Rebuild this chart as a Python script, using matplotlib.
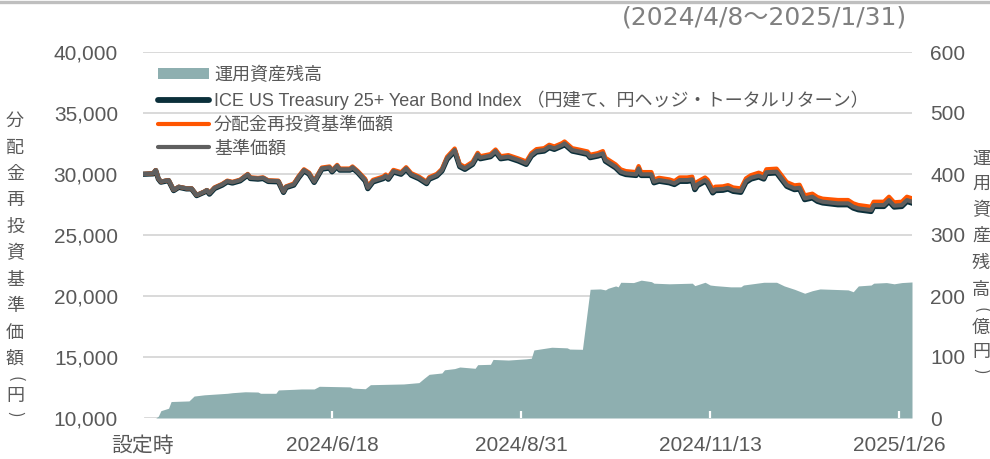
import matplotlib
matplotlib.use("Agg")
import matplotlib.pyplot as plt
from matplotlib.lines import Line2D
from matplotlib.patches import Patch
from matplotlib.ticker import FuncFormatter, MultipleLocator
import pandas as pd

plt.rcParams["font.family"] = ["Liberation Sans", "Noto Sans CJK JP"]

# ---- data -------------------------------------------------------------
price_dates = [
    "2024-04-05", "2024-04-09", "2024-04-10", "2024-04-11", "2024-04-12", "2024-04-15", "2024-04-17",
    "2024-04-19", "2024-04-22", "2024-04-24", "2024-04-26", "2024-04-29", "2024-04-30",
    "2024-05-01", "2024-05-03", "2024-05-06", "2024-05-08", "2024-05-10", "2024-05-13", "2024-05-16",
    "2024-05-17", "2024-05-20", "2024-05-22", "2024-05-24", "2024-05-28", "2024-05-30", "2024-05-31",
    "2024-06-03", "2024-06-05", "2024-06-07", "2024-06-09", "2024-06-11", "2024-06-14", "2024-06-17",
    "2024-06-18", "2024-06-20", "2024-06-21", "2024-06-25", "2024-06-26", "2024-06-28",
    "2024-07-01", "2024-07-02", "2024-07-04", "2024-07-08", "2024-07-09", "2024-07-10", "2024-07-12",
    "2024-07-15", "2024-07-17", "2024-07-19", "2024-07-22", "2024-07-25", "2024-07-26", "2024-07-29",
    "2024-07-31",
    "2024-08-02", "2024-08-05", "2024-08-07", "2024-08-09", "2024-08-12", "2024-08-14", "2024-08-15",
    "2024-08-19", "2024-08-21", "2024-08-23", "2024-08-26", "2024-08-30",
    "2024-09-02", "2024-09-04", "2024-09-06", "2024-09-09", "2024-09-11", "2024-09-13", "2024-09-16",
    "2024-09-17", "2024-09-20", "2024-09-23", "2024-09-26", "2024-09-27", "2024-09-30",
    "2024-10-02", "2024-10-03", "2024-10-07", "2024-10-09", "2024-10-11", "2024-10-15", "2024-10-16",
    "2024-10-17", "2024-10-21", "2024-10-22", "2024-10-24", "2024-10-28", "2024-10-30",
    "2024-11-01", "2024-11-04", "2024-11-06", "2024-11-07", "2024-11-08", "2024-11-11", "2024-11-12",
    "2024-11-14", "2024-11-15", "2024-11-18", "2024-11-20", "2024-11-22", "2024-11-25", "2024-11-27",
    "2024-11-29",
    "2024-12-02", "2024-12-04", "2024-12-05", "2024-12-09", "2024-12-11", "2024-12-13", "2024-12-16",
    "2024-12-18", "2024-12-20", "2024-12-23", "2024-12-25", "2024-12-27",
    "2025-01-02", "2025-01-06", "2025-01-08", "2025-01-10", "2025-01-15", "2025-01-16", "2025-01-20",
    "2025-01-22", "2025-01-24", "2025-01-27", "2025-01-29", "2025-01-31",
]

# ICE US Treasury 25+ Year Bond Index (yen, hedged, total return)
index_values = [
    29980, 30010, 30280, 29600, 29330, 29460, 28640, 28910, 28780, 28780, 28230, 28510, 28640,
    28350, 28810, 29090, 29360, 29260, 29440, 29910, 29630, 29580, 29630, 29390, 29360, 28490, 28890,
    29090, 29720, 30260, 29990, 29310, 30400, 30490, 30180, 30620, 30320, 30320, 30490, 30130,
    29430, 28800, 29350, 29620, 29790, 29570, 30170, 29980, 30390, 29900, 29620, 29210, 29570, 29840, 30250,
    31200, 31880, 30600, 30380, 30790, 31530, 31250, 31420, 31800, 31250, 31340, 31060,
    30790, 31470, 31800, 31880, 32160, 32020, 32290, 32430, 31880, 31750, 31610, 31340, 31470,
    31600, 31050, 30510, 30100, 29960, 29880, 30370, 29880, 29880, 29280, 29410, 29280, 29140,
    29400, 29400, 29460, 28720, 29050, 29400, 29220, 28450, 28640, 28670, 28770, 28580, 28500, 29320, 29590,
    29760, 29590, 30040, 30090, 29540, 28990, 28720, 28770, 27900, 28040, 27760, 27630,
    27480, 27480, 27210, 27070, 26930, 27340, 27340, 27750, 27290, 27340, 27750, 27620,
]

# 分配金再投資基準価額
reinvested_nav = [
    30000, 30060, 30330, 29650, 29380, 29510, 28690, 28960, 28830, 28830, 28280, 28560, 28690,
    28450, 28910, 29190, 29460, 29360, 29540, 30010, 29730, 29680, 29730, 29490, 29460, 28590, 28990,
    29220, 29850, 30390, 30120, 29440, 30530, 30620, 30310, 30750, 30450, 30450, 30620, 30260,
    29600, 28970, 29520, 29790, 29960, 29740, 30340, 30150, 30560, 30070, 29790, 29380, 29740, 30010, 30420,
    31410, 32090, 30810, 30590, 31000, 31740, 31460, 31630, 32010, 31460, 31550, 31270,
    31030, 31710, 32040, 32120, 32400, 32260, 32530, 32670, 32120, 31990, 31850, 31580, 31710,
    31880, 31330, 30790, 30380, 30240, 30160, 30650, 30160, 30160, 29560, 29690, 29560, 29420,
    29720, 29720, 29780, 29040, 29370, 29720, 29540, 28770, 28960, 28990, 29090, 28900, 28820, 29640, 29910,
    30110, 29940, 30390, 30440, 29890, 29340, 29070, 29120, 28250, 28390, 28110, 27980,
    27870, 27870, 27600, 27460, 27320, 27730, 27730, 28140, 27680, 27730, 28140, 28010,
]

# 基準価額
nav_values = [
    30000, 30050, 30320, 29640, 29370, 29500, 28680, 28950, 28820, 28820, 28270, 28550, 28680,
    28410, 28870, 29150, 29420, 29320, 29500, 29970, 29690, 29640, 29690, 29450, 29420, 28550, 28950,
    29150, 29780, 30320, 30050, 29370, 30460, 30550, 30240, 30680, 30380, 30380, 30550, 30190,
    29500, 28870, 29420, 29690, 29860, 29640, 30240, 30050, 30460, 29970, 29690, 29280, 29640, 29910, 30320,
    31280, 31960, 30680, 30460, 30870, 31610, 31330, 31500, 31880, 31330, 31420, 31140,
    30870, 31550, 31880, 31960, 32240, 32100, 32370, 32510, 31960, 31830, 31690, 31420, 31550,
    31690, 31140, 30600, 30190, 30050, 29970, 30460, 29970, 29970, 29370, 29500, 29370, 29230,
    29500, 29500, 29560, 28820, 29150, 29500, 29320, 28550, 28740, 28770, 28870, 28680, 28600, 29420, 29690,
    29860, 29690, 30140, 30190, 29640, 29090, 28820, 28870, 28000, 28140, 27860, 27730,
    27590, 27590, 27320, 27180, 27040, 27450, 27450, 27860, 27400, 27450, 27860, 27730,
]

# 運用資産残高 (億円)
aum_dates = [
    "2024-04-05", "2024-04-10", "2024-04-11", "2024-04-12", "2024-04-15", "2024-04-16", "2024-04-23",
    "2024-04-25", "2024-04-29", "2024-05-08", "2024-05-10", "2024-05-15", "2024-05-20", "2024-05-21",
    "2024-05-27", "2024-05-28", "2024-06-03", "2024-06-06", "2024-06-11", "2024-06-13", "2024-06-25",
    "2024-06-26", "2024-07-01", "2024-07-03", "2024-07-16", "2024-07-22", "2024-07-24", "2024-07-26",
    "2024-07-31", "2024-08-01", "2024-08-05", "2024-08-07", "2024-08-13", "2024-08-14", "2024-08-19",
    "2024-08-20", "2024-08-26", "2024-09-02", "2024-09-04", "2024-09-05", "2024-09-12", "2024-09-18",
    "2024-09-19", "2024-09-24", "2024-09-27", "2024-10-01", "2024-10-03", "2024-10-04", "2024-10-07",
    "2024-10-08", "2024-10-09", "2024-10-14", "2024-10-17", "2024-10-21", "2024-10-22", "2024-10-28",
    "2024-11-06", "2024-11-07", "2024-11-11", "2024-11-13", "2024-11-15", "2024-11-21", "2024-11-25",
    "2024-11-26", "2024-12-04", "2024-12-09", "2024-12-12", "2024-12-16", "2024-12-20", "2024-12-23",
    "2024-12-26", "2025-01-06", "2025-01-08", "2025-01-10", "2025-01-15", "2025-01-16", "2025-01-21",
    "2025-01-24", "2025-01-27", "2025-01-31",
]
aum_values = [
    0, 0, 3, 12, 16, 27, 28,
    36, 38, 40.5, 41.5, 43, 42.6, 40.5,
    40.5, 46, 47, 47.6, 47.6, 52, 51,
    49, 48, 54.6, 55.8, 58, 65, 71.6,
    73.8, 79, 81, 83.6, 81.5, 87.4, 88,
    96, 95, 97, 98, 111.5, 116, 115,
    113, 112.6, 211, 211.6, 210, 212.6, 216.5,
    215, 222.5, 222, 226, 223.5, 221, 220,
    221, 217, 222.5, 218, 217, 215, 215,
    218, 222.5, 222.5, 216.5, 211, 204.5, 208.7,
    211.6, 210, 207, 216.5, 218, 221, 222,
    220, 222, 223,
]

tick_dates = ["2024-04-05", "2024-06-18", "2024-08-31", "2024-11-13", "2025-01-26"]
tick_labels = ["設定時", "2024/6/18", "2024/8/31", "2024/11/13", "2025/1/26"]

series_labels = [
    "運用資産残高",
    "ICE US Treasury 25+ Year Bond Index （円建て、円ヘッジ・トータルリターン）",
    "分配金再投資基準価額",
    "基準価額",
]

# ---- styling ----------------------------------------------------------
AREA = "#8EAFB0"
NAVY = "#0B2F3A"
ORANGE = "#FF5500"
GREY = "#5F5F5F"
TEXT = "#595959"
GRID = "#D9D9D9"
JP = ["Noto Sans CJK JP", "DejaVu Sans"]

W, H = 990, 459
fig = plt.figure(figsize=(W / 100, H / 100), dpi=100)
left, right, top, bottom = 143, 912, 52, 418
ax = fig.add_axes([left / W, 1 - bottom / H, (right - left) / W, (bottom - top) / H])
ax2 = ax.twinx()
ax.set_zorder(ax2.get_zorder() + 1)
ax.patch.set_visible(False)

px = pd.to_datetime(price_dates)
ad = pd.to_datetime(aum_dates)

# fund size area on the right axis
ax2.fill_between(ad, 0, aum_values, color=AREA, lw=0, zorder=2)
ax2.set_ylim(0, 600)
ax2.yaxis.set_major_locator(MultipleLocator(100))
ax2.set_axisbelow(True)
ax2.yaxis.grid(True, color=GRID, lw=1.4, zorder=0)

# price lines on the left axis
ax.plot(px, index_values, color=NAVY, lw=3.8, solid_joinstyle="round", zorder=3)
ax.plot(px, reinvested_nav, color=ORANGE, lw=3.0, solid_joinstyle="round", zorder=4)
ax.plot(px, nav_values, color=GREY, lw=3.0, solid_joinstyle="round", zorder=5)
ax.set_ylim(10000, 40000)
ax.yaxis.set_major_locator(MultipleLocator(5000))
ax.yaxis.set_major_formatter(FuncFormatter(lambda v, p: f"{v:,.0f}"))

ax.set_xlim(pd.Timestamp("2024-04-05"), pd.Timestamp("2025-01-31"))
ax.set_xticks(pd.to_datetime(tick_dates))
ax.set_xticklabels(tick_labels)

for a in (ax, ax2):
    for s in a.spines.values():
        s.set_visible(False)

ax.tick_params(axis="y", length=0, pad=18, labelsize=15, labelcolor=TEXT)
ax2.tick_params(axis="y", length=0, pad=13, labelsize=15, labelcolor=TEXT)
ax.tick_params(axis="x", direction="in", length=5, width=1.6, color="white",
               pad=13, labelsize=15, labelcolor=TEXT)

# legend
handles = [
    Patch(facecolor=AREA, edgecolor="none"),
    Line2D([], [], color=NAVY, lw=4.2, solid_capstyle="round"),
    Line2D([], [], color=ORANGE, lw=3.0, solid_capstyle="round"),
    Line2D([], [], color=GREY, lw=3.0, solid_capstyle="round"),
]
leg = fig.legend(handles, series_labels, loc="upper left",
                 bbox_to_anchor=(158 / W, 1 - 67 / H), frameon=False,
                 fontsize=13, handlelength=2.85, handleheight=0.55,
                 handletextpad=0.25, labelspacing=0.36, borderpad=0,
                 borderaxespad=0)
for t in leg.get_texts():
    t.set_color(TEXT)

# period caption and top rule
fig.text(907 / W, 1 - 17 / H, "(2024/4/8～2025/1/31)", ha="right", va="center",
         fontsize=18, color="#808080", family=["DejaVu Sans", "Noto Sans CJK JP"])
fig.add_artist(Line2D([0, 1], [1 - 1.5 / H] * 2, color="#BFBFBF", lw=2.4,
                      transform=fig.transFigure))


def vertical_title(text, x, rows):
    """Stack characters top to bottom; brackets are turned to lie across."""
    for ch, y in zip(text, rows):
        if ch in "()":
            fig.text(x / W, 1 - y / H, ch, ha="center", va="center", fontsize=12,
                     color=TEXT, family=JP, rotation=-90, rotation_mode="anchor")
        else:
            fig.text(x / W, 1 - y / H, ch, ha="center", va="center", fontsize=13,
                     color=TEXT, family=JP)


vertical_title("分配金再投資基準価額(円)", 15,
               [121, 148, 174, 200, 227, 253, 280, 306, 333, 359, 379, 396, 414])
vertical_title("運用資産残高(億円)", 981,
               [159, 184, 210, 236, 263, 290, 310, 328, 352, 371])

fig.savefig("out.png", dpi=100)
